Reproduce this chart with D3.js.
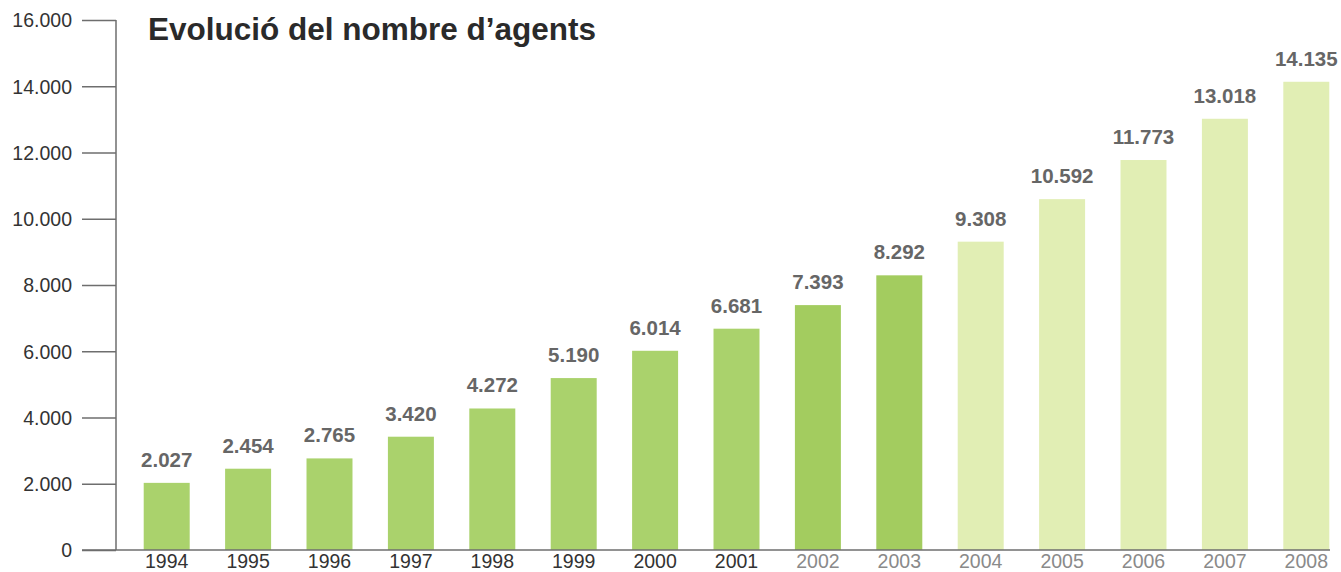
<!DOCTYPE html>
<html lang="ca">
<head>
    <meta charset="UTF-8">
    <title>Evolució del nombre d'agents</title>
    <script src="https://cdn.jsdelivr.net/npm/d3@7"></script>
    <style>
        body { margin: 0; background: #fff; }
        svg text { font-family: "Liberation Sans", Arial, sans-serif; }
    </style>
</head>
<body>
<script>
    // data
    var years = ["1994", "1995", "1996", "1997", "1998", "1999", "2000", "2001",
                 "2002", "2003", "2004", "2005", "2006", "2007", "2008"];
    var agents = [2027, 2454, 2765, 3420, 4272, 5190, 6014, 6681,
                  7393, 8292, 9308, 10592, 11773, 13018, 14135];
    var groups = ["a", "a", "a", "a", "a", "a", "a", "a",
                  "b", "b", "c", "c", "c", "c", "c"];
    var yTicks = [0, 2000, 4000, 6000, 8000, 10000, 12000, 14000, 16000];
    var title = "Evolució del nombre d\u2019agents";

    var w = 1341, h = 572;
    var fmt = function(v) { return d3.format(",")(v).replace(/,/g, "."); };

    var barColor = { a: "#aad26c", b: "#a3cc5f", c: "#e1eeb4" };
    var yearColor = { a: "#333", b: "#8a8a8a", c: "#8a8a8a" };

    var svg = d3.select("body").append("svg")
        .attr("width", w)
        .attr("height", h);

    var x = d3.scaleBand()
        .domain(years)
        .range([126, 1347])
        .paddingInner(0.435)
        .paddingOuter(0.2175);

    var y = d3.scaleLinear()
        .domain([0, 16000])
        .range([550, 20]);

    // y axis
    var yAxis = d3.axisLeft(y)
        .tickValues(yTicks)
        .tickSize(34)
        .tickPadding(10)
        .tickFormat(fmt);

    var gy = svg.append("g")
        .attr("transform", "translate(116,0)")
        .call(yAxis);
    gy.select(".domain").remove();
    gy.selectAll(".tick line").attr("stroke", "#6e6e6e").attr("stroke-width", 1.5);
    gy.selectAll(".tick text")
        .attr("font-size", "19.5px")
        .attr("fill", "#333")
        .attr("dy", "0.35em");

    svg.append("line")
        .attr("x1", 116).attr("x2", 116)
        .attr("y1", y(16000)).attr("y2", y(0))
        .attr("stroke", "#6e6e6e").attr("stroke-width", 1.5);

    // bars
    svg.selectAll("rect.bar")
        .data(agents)
        .enter()
        .append("rect")
        .attr("class", "bar")
        .attr("x", function(d, i) { return x(years[i]); })
        .attr("y", function(d) { return y(d); })
        .attr("width", x.bandwidth())
        .attr("height", function(d) { return y(0) - y(d); })
        .attr("fill", function(d, i) { return barColor[groups[i]]; });

    // baseline
    svg.append("line")
        .attr("x1", 82).attr("x2", 1330)
        .attr("y1", y(0)).attr("y2", y(0))
        .attr("stroke", "#6e6e6e").attr("stroke-width", 1.5);

    // value labels
    svg.selectAll("text.val")
        .data(agents)
        .enter()
        .append("text")
        .attr("class", "val")
        .attr("text-anchor", "middle")
        .attr("x", function(d, i) { return x(years[i]) + x.bandwidth() / 2; })
        .attr("y", function(d) { return y(d) - 16; })
        .attr("font-size", "20.5px")
        .attr("font-weight", "bold")
        .attr("fill", "#666")
        .text(fmt);

    // year labels
    svg.selectAll("text.year")
        .data(years)
        .enter()
        .append("text")
        .attr("class", "year")
        .attr("text-anchor", "middle")
        .attr("x", function(d) { return x(d) + x.bandwidth() / 2; })
        .attr("y", 568)
        .attr("font-size", "19.5px")
        .attr("fill", function(d, i) { return yearColor[groups[i]]; })
        .text(function(d) { return d; });

    // title
    svg.append("text")
        .attr("x", 148)
        .attr("y", 40)
        .attr("font-size", "31.5px")
        .attr("font-weight", "bold")
        .attr("fill", "#2a2a2a")
        .text(title);
</script>
</body>
</html>
